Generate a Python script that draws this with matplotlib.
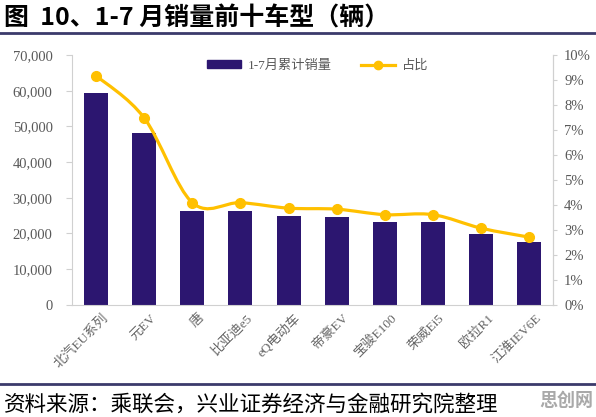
import numpy as np
import matplotlib
matplotlib.use("Agg")
import matplotlib.pyplot as plt
from matplotlib.path import Path
from matplotlib.patches import PathPatch, Patch
from matplotlib.lines import Line2D

# data
models = ["北汽EU系列", "元EV", "唐", "比亚迪e5", "eQ电动车", "帝豪EV",
          "宝骏E100", "荣威Ei5", "欧拉R1", "江淮IEV6E"]
sales = [59300, 48200, 26300, 26300, 24900, 24600, 23200, 23200, 19900, 17500]
share = [9.17, 7.48, 4.09, 4.09, 3.87, 3.83, 3.61, 3.61, 3.07, 2.71]

BAR = "#2C1670"
GOLD = "#FFC000"
GRAY = "#595959"
MIXED = ["Liberation Serif", "Noto Sans CJK SC"]

fig = plt.figure(figsize=(5.96, 4.17), dpi=100)
ax = fig.add_axes([0.121, 0.269, 0.807, 0.599])
x = np.arange(len(models))
ax.bar(x, sales, width=0.5, color=BAR, zorder=2)
ax.set_ylim(0, 70000)
ax.set_xlim(-0.5, len(models) - 0.5)
ax.set_yticks(range(0, 70001, 10000))
ax.set_yticklabels([f"{v:,}" for v in range(0, 70001, 10000)],
                   family="Liberation Serif", fontsize=10.5, color=GRAY)
ax.set_xticks(x + 0.12)
ax.set_xticklabels(models, rotation=45, ha="right", va="top", rotation_mode="anchor",
                   family=MIXED, fontsize=9.5, color="#666666")
ax.tick_params(axis="x", length=0, pad=5)
ax.tick_params(axis="y", length=4, color="#D0D0D0", pad=10)
ax.spines["top"].set_visible(False)
for s in ["left", "right", "bottom"]:
    ax.spines[s].set_color("#D0D0D0")

ax2 = ax.twinx()
ax2.set_ylim(0, 10)
ax2.set_yticks(range(0, 11))
ax2.set_yticklabels([f"{v}%" for v in range(0, 11)],
                    family="Liberation Serif", fontsize=10.5, color=GRAY)
ax2.tick_params(axis="y", length=3, color="#D0D0D0", pad=5)
for s in ["top", "left", "bottom"]:
    ax2.spines[s].set_visible(False)
ax2.spines["right"].set_color("#D0D0D0")

# smoothed line like Excel: bezier through the points (Catmull-Rom control points)
pts = np.column_stack([x, share]).astype(float)
verts = [tuple(pts[0])]
codes = [Path.MOVETO]
for i in range(len(pts) - 1):
    p0 = pts[max(i - 1, 0)]
    p1 = pts[i]
    p2 = pts[i + 1]
    p3 = pts[min(i + 2, len(pts) - 1)]
    c1 = p1 + (p2 - p0) / 6.0
    c2 = p2 - (p3 - p1) / 6.0
    verts += [tuple(c1), tuple(c2), tuple(p2)]
    codes += [Path.CURVE4] * 3
ax2.add_patch(PathPatch(Path(verts, codes), fill=False, edgecolor=GOLD, lw=2.3,
                        zorder=3, capstyle="round"))
ax2.plot(x, share, "o", color=GOLD, ms=7, zorder=4)

handles = [Patch(color=BAR), Line2D([], [], color=GOLD, lw=2.3, marker="o", ms=6)]
leg = ax.legend(handles, ["1-7月累计销量", "占比"], loc="upper center",
                bbox_to_anchor=(0.51, 1.03), ncol=2, frameon=False,
                prop={"family": MIXED, "size": 9.5}, handlelength=2.6,
                handleheight=0.45, columnspacing=2.2, handletextpad=0.5)
for t in leg.get_texts():
    t.set_color(GRAY)

fig.text(0.006, 0.955, "图  10、1-7 月销量前十车型（辆）", family="Noto Sans CJK SC",
         fontsize=18, fontweight="bold", va="center", ha="left")
fig.add_artist(Line2D([0, 1], [0.921, 0.921], color="#3B3A6B", lw=2))
fig.add_artist(Line2D([0, 1], [0.079, 0.079], color="#3B3A6B", lw=2))
fig.text(0.006, 0.030, "资料来源：乘联会，兴业证券经济与金融研究院整理",
         family="Noto Sans CJK SC", fontsize=15.5, va="center", ha="left")
fig.text(0.995, 0.04, "思创网", family="Noto Sans CJK SC", fontsize=13,
         fontweight="bold", color="#9A9A9A", va="center", ha="right", alpha=0.85)

fig.savefig("out.png", dpi=100)
